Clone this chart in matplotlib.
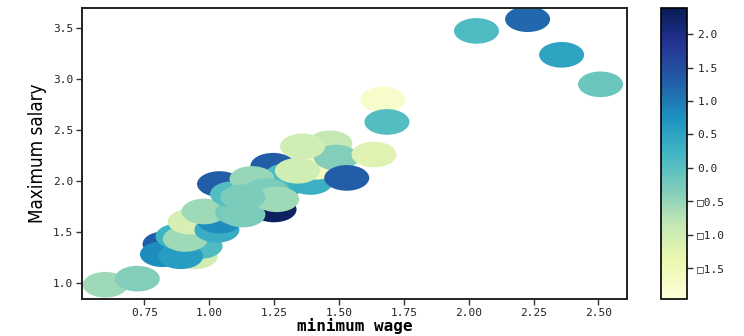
import matplotlib
matplotlib.use("Agg")
import matplotlib.pyplot as plt
import numpy as np
from matplotlib.path import Path
from matplotlib.transforms import Affine2D
from matplotlib.ticker import FuncFormatter

# minimum wage, maximum salary and the colour variable for every point
min_wage = [0.60, 0.723, 0.946, 0.83, 0.965, 0.82, 0.89, 0.88, 0.908, 0.927,
            1.03, 1.04, 0.98, 1.25, 1.11, 1.13, 1.04, 1.09, 1.246, 1.273,
            1.30, 1.165, 1.22, 1.26, 1.13, 1.39, 1.415, 1.465, 1.49, 1.36,
            1.34, 1.53, 1.635, 1.669, 1.685, 2.03, 2.227, 2.358, 2.508]
max_salary = [0.98, 1.04, 1.26, 1.38, 1.36, 1.28, 1.26, 1.455, 1.43, 1.60,
              1.52, 1.61, 1.70, 1.72, 1.69, 1.67, 1.97, 1.87, 2.15, 1.95,
              2.05, 2.02, 1.90, 1.82, 1.84, 1.99, 2.14, 2.37, 2.23, 2.34,
              2.10, 2.03, 2.26, 2.80, 2.58, 3.475, 3.59, 3.24, 2.95]
renk = [-0.55, -0.35, -1.0, 1.3, 0.1, 0.8, 0.6, 0.25, -0.55, -1.1,
        0.35, 0.8, -0.55, 2.3, -0.25, -0.3, 1.3, 0.05, 1.3, 0.45,
        0.1, -0.5, -0.3, -0.55, -0.3, 0.3, -1.6, -0.85, -0.35, -1.0,
        -1.0, 1.3, -1.2, -1.75, 0.05, 0.1, 1.2, 0.5, -0.15]

x_ticks = [0.75, 1.00, 1.25, 1.50, 1.75, 2.00, 2.25, 2.50]
y_ticks = [1.0, 1.5, 2.0, 2.5, 3.0, 3.5]
cbar_ticks = [-1.5, -1.0, -0.5, 0.0, 0.5, 1.0, 1.5, 2.0]

mono = "DejaVu Sans Mono"

fig = plt.figure(figsize=(7.44, 3.36), dpi=100)
ax = fig.add_axes([82 / 744, 37 / 336, 545 / 744, 291 / 336])

# yatay basık elips işaretçi
elips = Path.unit_circle().transformed(Affine2D().scale(1.0, 0.57))
sc = ax.scatter(min_wage, max_salary, c=renk, cmap="YlGnBu",
                vmin=-1.96, vmax=2.39, s=1050, marker=elips, linewidths=0)

ax.set_xlim(0.51, 2.61)
ax.set_ylim(0.84, 3.70)
ax.set_xticks(x_ticks)
ax.set_yticks(y_ticks)
ax.xaxis.set_major_formatter(FuncFormatter(lambda v, _: f"{v:.2f}"))
ax.yaxis.set_major_formatter(FuncFormatter(lambda v, _: f"{v:.1f}"))
for lbl in ax.get_xticklabels() + ax.get_yticklabels():
    lbl.set_fontfamily(mono)
    lbl.set_fontsize(8)
    lbl.set_color("#222222")
ax.tick_params(direction="out", length=4, width=1, color="#333333", pad=2.5)
for sp in ax.spines.values():
    sp.set_linewidth(1.4)
    sp.set_color("#222222")

ax.set_xlabel("minimum wage", fontfamily=mono, fontsize=11.5, fontweight="bold",
              labelpad=0)
ax.set_ylabel("Maximum salary", fontfamily="DejaVu Sans", fontstretch="condensed",
              fontsize=13.5, labelpad=4)

cax = fig.add_axes([661 / 744, 37 / 336, 26 / 744, 291 / 336])
cb = fig.colorbar(sc, cax=cax)
cb.set_ticks(cbar_ticks)
cb.ax.yaxis.set_major_formatter(
    FuncFormatter(lambda v, _: f"{v:.1f}".replace("-", "\u25a1")))
for lbl in cb.ax.get_yticklabels():
    lbl.set_fontfamily(mono)
    lbl.set_fontsize(8)
    lbl.set_color("#222222")
cb.ax.tick_params(direction="out", length=4, width=1, color="#333333")
cb.outline.set_linewidth(1.2)

fig.savefig("out.png", dpi=100)
